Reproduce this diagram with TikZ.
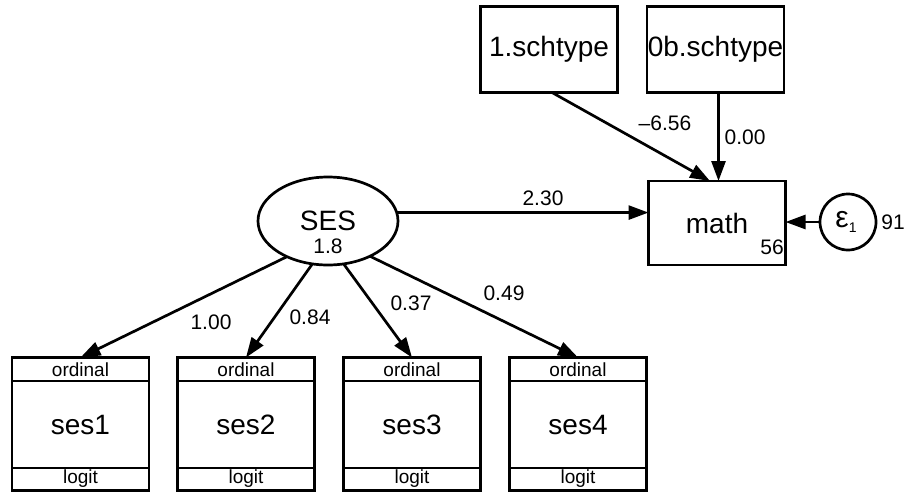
\documentclass[tikz,border=0pt]{standalone}
\usepackage{fontspec}
\setmainfont{Liberation Sans}
\usetikzlibrary{arrows.meta,shapes.geometric}
\begin{document}
\begin{tikzpicture}[x=1pt,y=-1pt,
  every node/.style={inner sep=0pt, outer sep=0pt},
  obs/.style={draw, line width=2.7pt, rectangle, minimum width=137pt, minimum height=86pt, font=\fontsize{28}{30}\selectfont},
  ordbox/.style={draw, line width=2.7pt, rectangle, minimum width=137pt, minimum height=133pt},
  lat/.style={draw, line width=2.7pt, ellipse, minimum width=140pt, minimum height=88pt},
  err/.style={draw, line width=2.7pt, circle, minimum size=56pt},
  big/.style={font=\fontsize{28}{30}\selectfont},
  num/.style={font=\fontsize{21}{23}\selectfont},
  small/.style={font=\fontsize{19}{21}\selectfont},
  conn/.style={line width=2.7pt, -{Triangle[length=20pt,width=14pt]}},
  sep/.style={line width=2.7pt}]
\useasboundingbox (0,0) rectangle (907,493);

% exogenous observed
\node[obs] (s1) at (549,49.5) {1.schtype};
\node[obs] (s0) at (715.5,49.5) {0b.schtype};

% endogenous
\node[obs, minimum height=84pt] (math) at (717,223) {math};
\node[num] (mathint) at (772,247) {56};

% latent
\node[lat] (SES) at (328,221) {};
\node[big] (seslbl) at (328,221) {SES};
\node[num] (sesvar) at (328,246) {1.8};

% error
\node[err] (e1) at (848,222) {};
\node[font=\fontsize{30}{30}\selectfont] (e1lbl) at (846,222) {ε\raisebox{-5pt}{\fontsize{14}{14}\selectfont 1}};
\node[num] (e1var) at (893,222) {91};

% measurement boxes
\foreach \i/\x in {1/80.5,2/246,3/412,4/578}{
  \node[ordbox] (o\i) at (\x,424) {};
  \draw[sep] ([yshift=-23.5pt]o\i.north west) -- ([yshift=-23.5pt]o\i.north east);
  \draw[sep] ([yshift=22.5pt]o\i.south west) -- ([yshift=22.5pt]o\i.south east);
  \node[small] (fam\i) at (\x,369.5) {ordinal};
  \node[big] (name\i) at (\x,425) {ses\i};
  \node[small] (link\i) at (\x,479) {logit};
}

% connectors
\draw[conn] ([xshift=3pt]s1.south) -- ([xshift=-7pt]math.north);
\draw[conn] ([xshift=3pt]s0.south) -- ([xshift=3pt]s0.south |- math.north);
\draw[conn] (SES.7) -- (SES.7 -| math.west);
\draw[conn] (e1.west) -- (e1.west -| math.east);
\draw[conn] (SES.-139) -- (o1.north);
\draw[conn] (SES.-110) -- (o2.north);
\draw[conn] (SES.-70) -- (o3.north);
\draw[conn] (SES.-40) -- (o4.north);

% labels
\node[num] (lm1) at (665,123) {–6.56};
\node[num] (lm0) at (745,137) {0.00};
\node[num] (lses) at (543,198) {2.30};
\node[num] (l1) at (211,322) {1.00};
\node[num] (l2) at (310,317) {0.84};
\node[num] (l3) at (411,303) {0.37};
\node[num] (l4) at (504,293) {0.49};
\end{tikzpicture}
\end{document}
